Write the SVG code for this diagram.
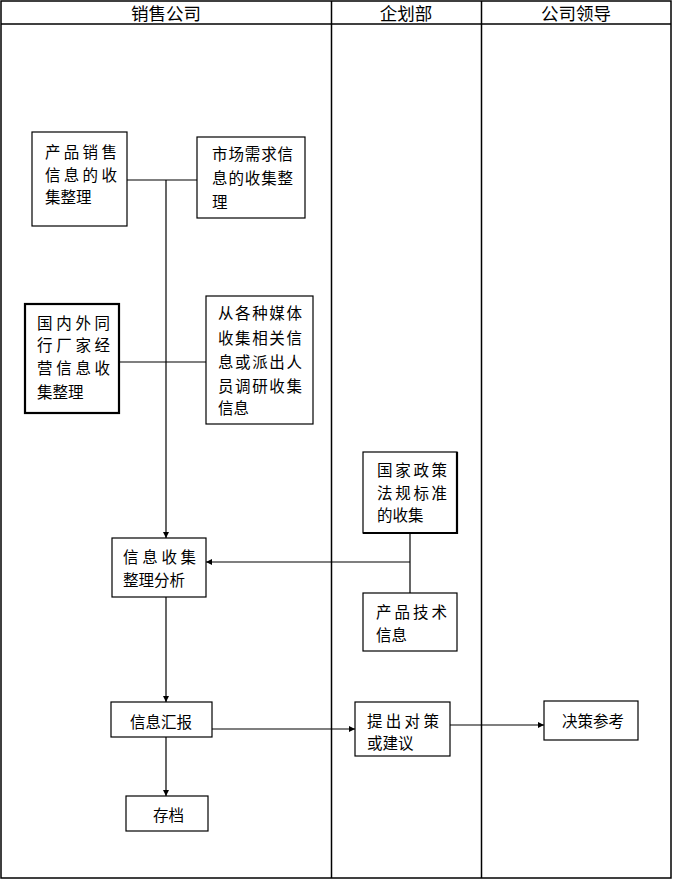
<svg xmlns="http://www.w3.org/2000/svg" width="673" height="880" viewBox="0 0 673 880">
<style>
.frame{fill:none;stroke:#000;stroke-width:1.5}
.box{fill:#fff;stroke:#000;stroke-width:1.2}
.thick{stroke-width:2.2}
.edge{fill:none;stroke:#000;stroke-width:2.2}
.t{font-family:"Noto Sans CJK SC","Noto Sans CJK JP",sans-serif;font-size:15.5px;fill:#000}
.h{font-family:"Noto Sans CJK SC","Noto Sans CJK JP",sans-serif;font-size:17.5px;fill:#000;text-anchor:middle}
.conn{fill:none;stroke:#000;stroke-width:1.2}
</style>
<defs>
<marker id="arr" viewBox="0 0 10 10" refX="10" refY="5" markerWidth="7" markerHeight="6" orient="auto" markerUnits="userSpaceOnUse">
<path d="M0,0 L10,5 L0,10 z" fill="#000"/>
</marker>
</defs>
<rect x="0" y="0" width="673" height="880" fill="#fff"/>
<g id="lanes">
<rect class="frame" x="1" y="1" width="670" height="877"/>
<line class="frame" x1="1" y1="24" x2="671" y2="24"/>
<line class="frame" x1="331.5" y1="1" x2="331.5" y2="878"/>
<line class="frame" x1="481.5" y1="1" x2="481.5" y2="878"/>
<text class="h" x="166" y="20">销售公司</text>
<text class="h" x="406" y="20">企划部</text>
<text class="h" x="576" y="20">公司领导</text>
</g>
<g id="connectors">
<line class="conn" x1="127" y1="180" x2="197" y2="180"/>
<line class="conn" x1="119" y1="362" x2="206" y2="362"/>
<line class="conn" x1="166" y1="180" x2="166" y2="538" marker-end="url(#arr)"/>
<line class="conn" x1="410" y1="533" x2="410" y2="593"/>
<line class="conn" x1="410" y1="562" x2="206" y2="562" marker-end="url(#arr)"/>
<line class="conn" x1="166" y1="597" x2="166" y2="702" marker-end="url(#arr)"/>
<line class="conn" x1="166" y1="737" x2="166" y2="796" marker-end="url(#arr)"/>
<line class="conn" x1="212" y1="729" x2="355" y2="729" marker-end="url(#arr)"/>
<line class="conn" x1="450" y1="725" x2="544" y2="725" marker-end="url(#arr)"/>
</g>
<g id="n1">
<rect class="box" x="32" y="132" width="95" height="94"/>
<text class="t" x="45" y="158" letter-spacing="3.3">产品销售</text>
<text class="t" x="45" y="180.5" letter-spacing="3.3">信息的收</text>
<text class="t" x="45" y="203">集整理</text>
</g>
<g id="n2">
<rect class="box" x="197" y="137" width="108" height="81"/>
<text class="t" x="212" y="160" letter-spacing="0.9">市场需求信</text>
<text class="t" x="212" y="184" letter-spacing="0.9">息的收集整</text>
<text class="t" x="212" y="208">理</text>
</g>
<g id="n3">
<rect class="box thick" x="25" y="304" width="94" height="109"/>
<text class="t" x="37" y="329" letter-spacing="3.7">国内外同</text>
<text class="t" x="37" y="351" letter-spacing="3.7">行厂家经</text>
<text class="t" x="37" y="374" letter-spacing="3.7">营信息收</text>
<text class="t" x="37" y="398">集整理</text>
</g>
<g id="n4">
<rect class="box" x="206" y="296" width="107" height="128"/>
<text class="t" x="218" y="319" letter-spacing="1.6">从各种媒体</text>
<text class="t" x="218" y="344" letter-spacing="1.6">收集相关信</text>
<text class="t" x="218" y="368" letter-spacing="1.6">息或派出人</text>
<text class="t" x="218" y="392" letter-spacing="1.6">员调研收集</text>
<text class="t" x="218" y="414">信息</text>
</g>
<g id="n5">
<rect class="box" x="363" y="452" width="94" height="81"/>
<polyline class="edge" points="457,452 457,533 363,533"/>
<text class="t" x="377" y="476" letter-spacing="2.7">国家政策</text>
<text class="t" x="377" y="499" letter-spacing="2.7">法规标准</text>
<text class="t" x="377" y="521">的收集</text>
</g>
<g id="n6">
<rect class="box" x="363" y="593" width="94" height="58"/>
<text class="t" x="376" y="618" letter-spacing="3">产品技术</text>
<text class="t" x="376" y="641">信息</text>
</g>
<g id="n7">
<rect class="box" x="112" y="538" width="94" height="59"/>
<text class="t" x="123" y="563" letter-spacing="3.7">信息收集</text>
<text class="t" x="123" y="586">整理分析</text>
</g>
<g id="n8">
<rect class="box" x="111" y="702" width="101" height="35"/>
<text class="t" x="130" y="728">信息汇报</text>
</g>
<g id="n9">
<rect class="box" x="126" y="796" width="82" height="35"/>
<text class="t" x="153" y="821">存档</text>
</g>
<g id="n10">
<rect class="box" x="355" y="702" width="95" height="54"/>
<text class="t" x="367" y="727" letter-spacing="3.3">提出对策</text>
<text class="t" x="367" y="749">或建议</text>
</g>
<g id="n11">
<rect class="box" x="544" y="701" width="94" height="39"/>
<text class="t" x="562" y="727">决策参考</text>
</g>
</svg>
